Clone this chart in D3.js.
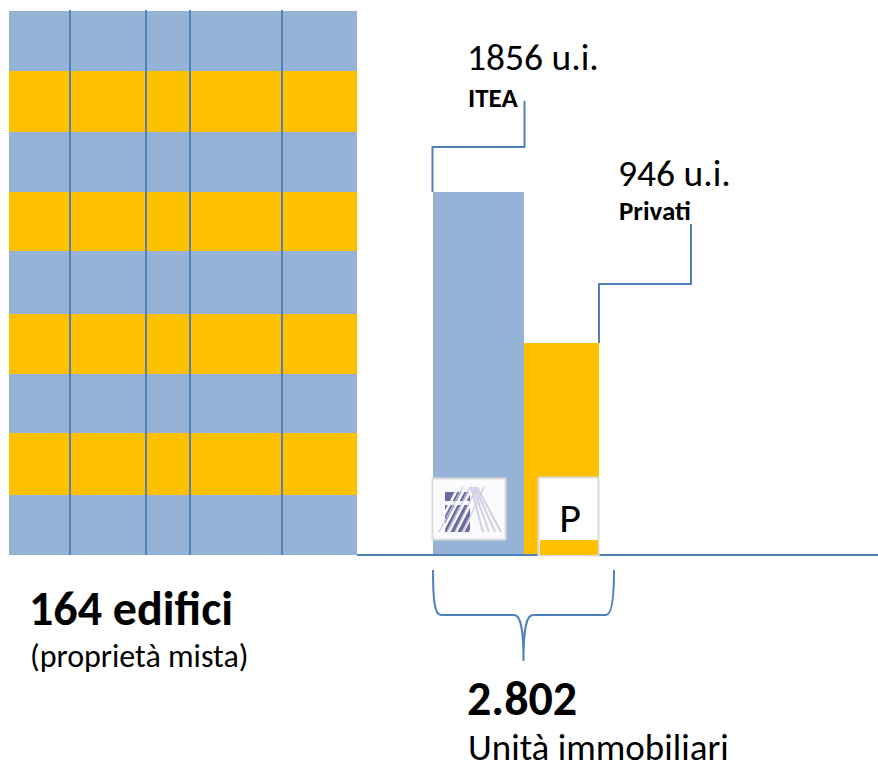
<!DOCTYPE html>
<html>
<head>
<meta charset="utf-8">
<script src="https://cdn.jsdelivr.net/npm/d3@7/dist/d3.min.js"></script>
<style>
  html, body { margin: 0; padding: 0; background: #fff; overflow: hidden; }
  svg { display: block; }
  text { font-family: Carlito, Lato, "Noto Sans", sans-serif; fill: #000; }
</style>
</head>
<body>
<div id="grafico"></div>
<script>
// Edificio: altezza dei piani e larghezza delle colonne
const floorSizes = [60, 61, 60, 59, 63, 60, 59, 62, 60]
const columnSizes = [61, 76, 44, 92, 75]

// Barre: unita immobiliari. La barra Privati nella figura e disegnata piu alta di 946
const barNames = ["ITEA", "Privati"]
const barUnits = ["1856 u.i.", "946 u.i."]
const barHeights = [1856, 1084]
const barWidths = [91, 75]

const totalLabel = "2.802"
const totalCaption = "Unità immobiliari"
const buildingLabel = "164 edifici"
const buildingCaption = "(proprietà mista)"

const blue = "#95b3d7"
const gold = "#ffc000"
const line = "#4f81bd"

const width = 878
const height = 766
const svg = d3.select("#grafico").append("svg").attr("width", width).attr("height", height)

// --- edificio ---
const floorEdges = d3.cumsum([0].concat(floorSizes))
const columnEdges = d3.cumsum([0].concat(columnSizes))
const yFloor = d3.scaleLinear().domain([0, d3.sum(floorSizes)]).range([11, 555])
const xColumn = d3.scaleLinear().domain([0, d3.sum(columnSizes)]).range([9, 357])

svg.selectAll("rect.floor")
  .data(floorSizes)
  .enter()
  .append("rect")
  .attr("class", "floor")
  .attr("x", xColumn(0))
  .attr("y", (d, i) => yFloor(floorEdges[i]))
  .attr("width", xColumn(d3.sum(columnSizes)) - xColumn(0))
  .attr("height", d => yFloor(d) - yFloor(0))
  .attr("fill", (d, i) => i % 2 == 0 ? blue : gold)

svg.selectAll("line.column")
  .data(columnEdges.slice(1, -1))
  .enter()
  .append("line")
  .attr("class", "column")
  .attr("x1", d => xColumn(d))
  .attr("x2", d => xColumn(d))
  .attr("y1", 10)
  .attr("y2", 555)
  .attr("stroke", line)
  .attr("stroke-width", 2)

// --- barre ---
const yBar = d3.scaleLinear().domain([0, 1856]).range([555, 192])
const xBar = d3.scaleLinear().domain([0, d3.sum(barWidths)]).range([433, 599])
const barEdges = d3.cumsum([0].concat(barWidths))

svg.selectAll("rect.bar")
  .data(barHeights)
  .enter()
  .append("rect")
  .attr("class", "bar")
  .attr("x", (d, i) => xBar(barEdges[i]))
  .attr("y", d => yBar(d))
  .attr("width", (d, i) => xBar(barWidths[i]) - xBar(0))
  .attr("height", d => yBar(0) - yBar(d))
  .attr("fill", (d, i) => i == 0 ? blue : gold)

// linea di base
svg.append("line")
  .attr("x1", 357).attr("x2", width)
  .attr("y1", 555).attr("y2", 555)
  .attr("stroke", line).attr("stroke-width", 2)

// linee di richiamo
const leader = (x1, x2, yBottom, yMid, yTop) => {
  const p = d3.path()
  p.moveTo(x1, yBottom)
  p.lineTo(x1, yMid)
  p.lineTo(x2, yMid)
  p.lineTo(x2, yTop)
  return p.toString()
}
svg.append("path")
  .attr("d", leader(xBar(0) - 0.5, xBar(barWidths[0]) + 0.5, yBar(barHeights[0]), 147, 101))
  .attr("fill", "none").attr("stroke", line).attr("stroke-width", 2)
svg.append("path")
  .attr("d", leader(xBar(d3.sum(barWidths)), 691, yBar(barHeights[1]), 284, 224))
  .attr("fill", "none").attr("stroke", line).attr("stroke-width", 2)

// --- logo ITEA ---
const logo = svg.append("g")
logo.append("rect")
  .attr("x", 432.5).attr("y", 478.5).attr("width", 73).attr("height", 61)
  .attr("fill", "#fbfbfd").attr("stroke", "#dcdcdc").attr("stroke-width", 2)
logo.append("path")
  .attr("d", "M445 492h25v9h-25zM445 505h25v27h-25z")
  .attr("fill", "#6c6ca4")
// tratti chiari che tagliano il blocco scuro
for (let i = 0; i < 6; i++) {
  logo.append("line")
    .attr("x1", 434 + i * 7).attr("y1", 534)
    .attr("x2", 458 + i * 7).attr("y2", 488)
    .attr("stroke", "#fbfbfd").attr("stroke-width", 2.5)
}
for (let i = 0; i < 4; i++) {
  logo.append("line")
    .attr("x1", 439 + i * 8).attr("y1", 532)
    .attr("x2", 463 + i * 7).attr("y2", 487)
    .attr("stroke", "#c8c8dc").attr("stroke-width", 1.2)
}
for (let i = 0; i < 4; i++) {
  logo.append("line")
    .attr("x1", 471 + i * 2).attr("y1", 487)
    .attr("x2", 483 + i * 6).attr("y2", 532)
    .attr("stroke", "#d0d0e0").attr("stroke-width", 2)
}

// --- riquadro P ---
svg.append("rect")
  .attr("x", 538.5).attr("y", 477.5).attr("width", 60).attr("height", 78)
  .attr("fill", "#fff").attr("stroke", "#dcdcdc").attr("stroke-width", 2)
svg.append("rect")
  .attr("x", 540).attr("y", 540).attr("width", 58).attr("height", 15)
  .attr("fill", gold)
svg.append("text")
  .attr("x", 570).attr("y", 532)
  .attr("text-anchor", "middle")
  .attr("font-size", 42)
  .text("P")

// --- graffa ---
const brace = d3.path()
brace.moveTo(433, 570)
brace.bezierCurveTo(433, 596, 434, 615, 441, 615)
brace.lineTo(514, 615)
brace.bezierCurveTo(521, 615, 523.5, 630, 523.5, 661)
brace.bezierCurveTo(523.5, 630, 526, 615, 533, 615)
brace.lineTo(606, 615)
brace.bezierCurveTo(612, 615, 614, 596, 614, 570)
svg.append("path")
  .attr("d", brace.toString())
  .attr("fill", "none").attr("stroke", line).attr("stroke-width", 2)

// --- testi ---
const addText = (x, y, size, bold, label) => {
  svg.append("text")
    .attr("x", x).attr("y", y)
    .attr("font-size", size)
    .attr("font-weight", bold ? 700 : 400)
    .text(label)
}
addText(467, 70, 37.5, false, barUnits[0])
addText(468, 107, 27, true, barNames[0])
addText(618, 186, 37.5, false, barUnits[1])
addText(619, 220, 27, true, barNames[1])
addText(29, 625, 48, true, buildingLabel)
addText(30, 667, 32, false, buildingCaption)
addText(467, 715, 48, true, totalLabel)
addText(468, 760, 37, false, totalCaption)
</script>
</body>
</html>
